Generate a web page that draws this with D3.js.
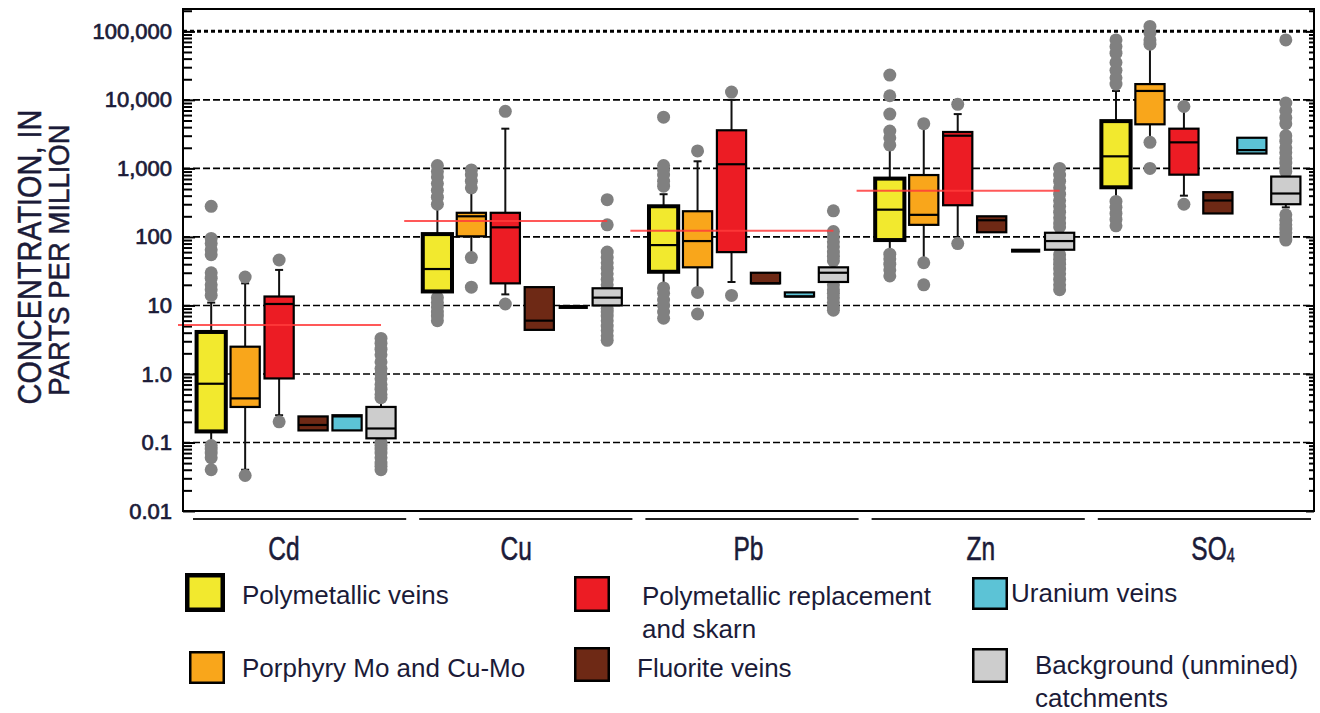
<!DOCTYPE html>
<html>
<head>
<meta charset="utf-8">
<script src="https://cdn.jsdelivr.net/npm/d3@7"></script>
<style>
  html, body { margin: 0; padding: 0; background: #fff; }
  svg { display: block; }
  text { font-family: "Liberation Sans", Arial, sans-serif; fill: #1b1b38; }
</style>
</head>
<body>
<svg id="chart" width="1320" height="713"></svg>
<script>
// ---------------- DATA ----------------
const elements = ["Cd", "Cu", "Pb", "Zn", "SO4"];
const depositTypes = ["Polymetallic veins", "Porphyry Mo and Cu-Mo", "Polymetallic replacement and skarn",
                      "Fluorite veins", "Uranium veins", "Background (unmined) catchments"];
const depositColors = ["#f2e92e", "#f9a61b", "#ec1c24", "#6e2915", "#5cc3d6", "#cdcdcd"];

// per element: [lower whisker, Q1, median, Q3, upper whisker]  (ppm)
const polymetallicVeins = [
  [0.1, 0.145, 0.72, 4.1, 11],
  [14, 16, 34, 110, 280],
  [20, 31, 76, 280, 420],
  [63, 90, 250, 710, 1900],
  [355, 530, 1500, 4900, 13500]
];
const porphyryMo = [
  [0.04, 0.33, 0.44, 2.5, 21],
  [55, 102, 200, 225, 500],
  [16, 36, 87, 237, 1270],
  [45, 150, 210, 800, 4000],
  [2500, 4400, 13500, 17000, 57000]
];
const replacementSkarn = [
  [0.25, 0.86, 10.5, 13.5, 33],
  [14.5, 21, 138, 225, 3800],
  [22, 60, 1150, 3600, 10000],
  [90, 290, 3000, 3400, 6200],
  [400, 810, 2400, 3800, 7300]
];
const fluoriteVeins = [
  [0.15, 0.15, 0.18, 0.24, 0.24],
  [4.4, 4.4, 6, 18.5, 18.5],
  [21, 21, 21, 30, 30],
  [117, 117, 175, 200, 200],
  [220, 220, 340, 450, 450]
];
const uraniumVeins = [
  [0.15, 0.15, 0.24, 0.25, 0.25],
  [9.5, 9.5, 9.5, 9.5, 9.5],
  [13.5, 13.5, 13.5, 15.5, 15.5],
  [63, 63, 63, 63, 63],
  [1650, 1650, 1850, 2800, 2800]
];
const backgroundCatchments = [
  [0.11, 0.115, 0.16, 0.33, 0.4],
  [9.5, 10, 13, 17.8, 18.5],
  [20, 22, 30, 36, 40],
  [60, 65, 87, 115, 130],
  [270, 300, 430, 760, 850]
];

// outliers per element
const polymetallicVeinsOutliers = [
  [280, 95, 80, 65, 55, 30, 25, 20, 17, 14, 0.09, 0.08, 0.07, 0.06, 0.04],
  [1100, 900, 750, 600, 480, 380, 300, 13, 11, 9.5, 8, 7, 6],
  [5600, 1100, 950, 800, 650, 550, 18, 15, 12, 10, 8, 6.5],
  [23000, 11500, 6200, 3500, 2800, 2200, 56, 48, 40, 33, 27],
  [75000, 60000, 48000, 35000, 27000, 21000, 17000, 330, 270, 220, 180, 145]
];
const porphyryMoOutliers = [
  [26, 0.033],
  [950, 800, 650, 520, 50, 18.5],
  [1800, 15.5, 7.5],
  [4500, 42, 20],
  [118000, 95000, 75000, 65000, 2400, 1000]
];
const replacementSkarnOutliers = [
  [46, 0.2],
  [6800, 10.5],
  [13000, 14],
  [8600, 80],
  [8000, 300]
];
const fluoriteVeinsOutliers = [[], [], [], [], []];
const uraniumVeinsOutliers = [[], [], [], [], []];
const backgroundCatchmentsOutliers = [
  [3.3, 2.8, 2.3, 1.9, 1.5, 1.2, 1.0, 0.85, 0.7, 0.6, 0.5, 0.45, 0.1, 0.09, 0.08, 0.07, 0.06, 0.05, 0.045, 0.04],
  [350, 150, 60, 50, 42, 35, 29, 24, 20, 9, 8, 7, 6, 5, 4.3, 3.6, 3.1],
  [240, 120, 100, 85, 72, 60, 52, 45, 20, 17, 15, 13, 11, 9.5, 8.5],
  [1000, 800, 650, 520, 420, 340, 280, 230, 190, 160, 140, 55, 47, 40, 34, 29, 24, 20, 17],
  [75000, 9000, 7000, 5500, 4500, 3000, 2500, 2000, 1700, 1400, 1200, 1000, 900, 210, 175, 150, 130, 115, 100, 90]
];

// reference (criterion) lines per element, ppm
const criterionLines = [5.2, 171, 123, 470, null];

const yTickValues = [0.01, 0.1, 1, 10, 100, 1000, 10000, 100000];
const yTickLabels = ["0.01", "0.1", "1.0", "10", "100", "1,000", "10,000", "100,000"];
const yTitle = ["CONCENTRATION, IN", "PARTS PER MILLION"];

// ---------------- LAYOUT ----------------
const stats = [polymetallicVeins, porphyryMo, replacementSkarn, fluoriteVeins, uraniumVeins, backgroundCatchments];
const outliers = [polymetallicVeinsOutliers, porphyryMoOutliers, replacementSkarnOutliers,
                  fluoriteVeinsOutliers, uraniumVeinsOutliers, backgroundCatchmentsOutliers];

const svg = d3.select("#chart");
const plot = { left: 183, right: 1314, top: 9, bottom: 511 };

const y = d3.scaleLog().domain([0.01, 212000]).range([plot.bottom, plot.top]);
const x = d3.scaleBand().domain(elements).range([plot.left, plot.right]);
const xInner = d3.scaleBand().domain(depositTypes).range([0, x.bandwidth()])
  .paddingInner(0).paddingOuter(0.33);
const labelX = d3.scalePoint().domain(elements).range([284, 1213]);
const boxW = xInner.step() * 0.86;

// gridlines
const grid = svg.append("g");
yTickValues.filter(v => v > 0.01).forEach(v => {
  grid.append("line")
    .attr("x1", plot.left).attr("x2", plot.right)
    .attr("y1", y(v)).attr("y2", y(v))
    .attr("stroke", "#000")
    .attr("stroke-width", v === 100000 ? 3 : 1.6)
    .attr("stroke-dasharray", v === 100000 ? "4,3" : "7,3");
});

// axes (ticks inside)
const minorTicks = [];
for (let e = -2; e <= 5; e++) {
  for (let m = 1; m <= 9; m++) {
    const v = m * Math.pow(10, e);
    if (v <= 212000) minorTicks.push(v);
  }
}
const fmtNone = () => "";
const leftAxis = d3.axisRight(y).tickValues(minorTicks).tickFormat(fmtNone)
  .tickSize(9).tickSizeOuter(0);
const gl = svg.append("g").attr("transform", `translate(${plot.left},0)`).call(leftAxis);
gl.select(".domain").remove();
gl.selectAll(".tick line").attr("stroke", "#000").attr("stroke-width", 2)
  .attr("x2", d => (Math.log10(d) % 1 === 0 ? 12 : 9));

const rightAxis = d3.axisLeft(y).tickValues(minorTicks).tickFormat(fmtNone)
  .tickSize(5).tickSizeOuter(0);
const gr = svg.append("g").attr("transform", `translate(${plot.right},0)`).call(rightAxis);
gr.select(".domain").remove();
gr.selectAll(".tick line").attr("stroke", "#000").attr("stroke-width", 2)
  .attr("x2", d => (Math.log10(d) % 1 === 0 ? -8 : -5));

// tick labels
const labelAxis = d3.axisLeft(y).tickValues(yTickValues)
  .tickFormat((d, i) => yTickLabels[i]).tickSize(0).tickPadding(11);
const gll = svg.append("g").attr("transform", `translate(${plot.left},0)`).call(labelAxis);
gll.select(".domain").remove();
gll.selectAll(".tick text")
  .style("font-family", '"Liberation Sans", Arial, sans-serif')
  .style("font-size", "22px")
  .attr("fill", "#1b1b38")
  .attr("stroke", "#1b1b38").attr("stroke-width", 0.7);

// boxes
const marks = svg.append("g");
elements.forEach((el, ei) => {
  depositTypes.forEach((dt, di) => {
    const [lo, q1, med, q3, hi] = stats[di][ei];
    const cx = x(el) + xInner(dt) + xInner.bandwidth() / 2;
    const g = marks.append("g");
    // whiskers
    if (hi > q3) {
      g.append("line").attr("x1", cx).attr("x2", cx).attr("y1", y(q3)).attr("y2", y(hi))
        .attr("stroke", "#111").attr("stroke-width", 2);
      g.append("line").attr("x1", cx - 4).attr("x2", cx + 4).attr("y1", y(hi)).attr("y2", y(hi))
        .attr("stroke", "#111").attr("stroke-width", 2);
    }
    if (lo < q1) {
      g.append("line").attr("x1", cx).attr("x2", cx).attr("y1", y(q1)).attr("y2", y(lo))
        .attr("stroke", "#111").attr("stroke-width", 2);
      g.append("line").attr("x1", cx - 4).attr("x2", cx + 4).attr("y1", y(lo)).attr("y2", y(lo))
        .attr("stroke", "#111").attr("stroke-width", 2);
    }
    // outliers
    g.selectAll("circle").data(outliers[di][ei]).join("circle")
      .attr("cx", cx).attr("cy", d => y(d)).attr("r", 6.5)
      .attr("fill", "#808080");
    // box
    const thick = di === 0 ? 4 : 2.2;
    if (q3 === q1) {
      g.append("line").attr("x1", cx - boxW / 2).attr("x2", cx + boxW / 2)
        .attr("y1", y(q1)).attr("y2", y(q1)).attr("stroke", "#000").attr("stroke-width", 4);
    } else {
      g.append("rect")
        .attr("x", cx - boxW / 2).attr("width", boxW)
        .attr("y", y(q3)).attr("height", y(q1) - y(q3))
        .attr("fill", depositColors[di]).attr("stroke", "#000").attr("stroke-width", thick);
      g.append("line").attr("x1", cx - boxW / 2).attr("x2", cx + boxW / 2)
        .attr("y1", y(med)).attr("y2", y(med)).attr("stroke", "#000").attr("stroke-width", 2.2);
    }
  });
});

// criterion lines (drawn on top)
elements.forEach((el, ei) => {
  const v = criterionLines[ei];
  if (v == null) return;
  const xEnd = x(el) + xInner(depositTypes[5]) + xInner.bandwidth() / 2;
  svg.append("line")
    .attr("x1", x(el) - 5).attr("x2", xEnd)
    .attr("y1", y(v)).attr("y2", y(v))
    .attr("stroke", "#ff3b3b").attr("stroke-opacity", 0.85).attr("stroke-width", 2);
});

// frame
svg.append("rect")
  .attr("x", plot.left).attr("y", plot.top)
  .attr("width", plot.right - plot.left).attr("height", plot.bottom - plot.top)
  .attr("fill", "none").attr("stroke", "#000").attr("stroke-width", 2);

// group underlines and labels
elements.forEach(el => {
  svg.append("line")
    .attr("x1", x(el) + 10).attr("x2", x(el) + x.bandwidth() - 3)
    .attr("y1", 519).attr("y2", 519)
    .attr("stroke", "#222").attr("stroke-width", 2.2);
  const t = svg.append("text")
    .attr("x", 0).attr("y", 0)
    .attr("text-anchor", "middle")
    .style("font-size", "34px")
    .attr("stroke", "#1b1b38").attr("stroke-width", 0.6)
    .attr("transform", `translate(${labelX(el)},560) scale(0.72,1)`);
  if (el === "SO4") {
    t.append("tspan").text("SO");
    t.append("tspan").text("4").style("font-size", "20px").attr("dy", 2);
  } else {
    t.text(el);
  }
});

// y title
svg.append("text")
  .attr("transform", "translate(41,257) rotate(-90) scale(0.85,1)")
  .attr("text-anchor", "middle")
  .style("font-size", "34px")
  .attr("stroke", "#1b1b38").attr("stroke-width", 0.5)
  .text(yTitle[0]);
svg.append("text")
  .attr("transform", "translate(69,260) rotate(-90) scale(0.95,1)")
  .attr("text-anchor", "middle")
  .style("font-size", "29px")
  .attr("stroke", "#1b1b38").attr("stroke-width", 0.5)
  .text(yTitle[1]);

// legend
const legendItems = [
  { i: 0, sx: 185, sy: 573, sw: 40, sh: 39, tx: 242, lines: ["Polymetallic veins"], ty: 604 },
  { i: 1, sx: 189, sy: 651, sw: 36, sh: 33, tx: 242, lines: ["Porphyry Mo and Cu-Mo"], ty: 677 },
  { i: 2, sx: 574, sy: 576, sw: 36, sh: 36, tx: 642, lines: ["Polymetallic replacement", "and skarn"], ty: 605 },
  { i: 3, sx: 574, sy: 647, sw: 36, sh: 35, tx: 637, lines: ["Fluorite veins"], ty: 677 },
  { i: 4, sx: 972, sy: 577, sw: 36, sh: 33, tx: 1011, lines: ["Uranium veins"], ty: 602 },
  { i: 5, sx: 972, sy: 648, sw: 36, sh: 35, tx: 1035, lines: ["Background (unmined)", "catchments"], ty: 674 }
];
const lg = svg.append("g");
legendItems.forEach(it => {
  const sw = it.i === 0 ? 4.5 : 2.5;
  lg.append("rect")
    .attr("x", it.sx + sw / 2).attr("y", it.sy + sw / 2)
    .attr("width", it.sw - sw).attr("height", it.sh - sw)
    .attr("fill", depositColors[it.i]).attr("stroke", "#000").attr("stroke-width", sw);
  const t = lg.append("text").attr("x", it.tx).attr("y", it.ty).style("font-size", "26px");
  it.lines.forEach((ln, k) => {
    t.append("tspan").attr("x", it.tx).attr("dy", k === 0 ? 0 : 33).text(ln);
  });
});
</script>
</body>
</html>
